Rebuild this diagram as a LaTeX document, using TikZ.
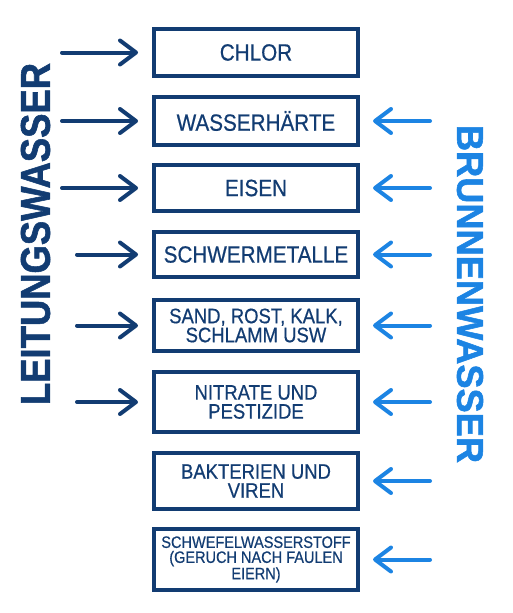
\documentclass[tikz,border=0pt]{standalone}
\usepackage{fontspec}
\setmainfont{Liberation Sans}
\newfontfamily\boxfont[FakeStretch=0.88, FakeBold=0.6]{Liberation Sans}
\newfontfamily\sidefont[UprightFont={* Bold}, FakeBold=1.5]{Liberation Sans}
\usepackage{xcolor}
\usetikzlibrary{arrows.meta}
\definecolor{darkblue}{HTML}{123C72}
\definecolor{lightblue}{HTML}{1C84E3}

\tikzset{
  item/.style={draw=darkblue, line width=4pt, text=darkblue, minimum width=204pt,
               align=center, inner sep=0pt},
  oneline/.style={font=\boxfont\fontsize{23.5}{20}\selectfont},
  twoline/.style={font=\boxfont\fontsize{21}{19}\selectfont},
  threeline/.style={font=\boxfont\fontsize{16.5}{15}\selectfont},
  fromleft/.style={draw=darkblue, line width=4pt, line cap=round,
                   -{Straight Barb[length=16pt, width=24pt, round]}, shorten >=14pt},
  fromright/.style={draw=lightblue, line width=4pt, line cap=round,
                    -{Straight Barb[length=16pt, width=24pt, round]}, shorten >=13pt},
  sidelabel/.style={inner sep=0pt}
}

\begin{document}
\begin{tikzpicture}[x=1pt, y=-1pt]
  \useasboundingbox (0,0) rectangle (512,613);

  % boxes
  \node[item, oneline, minimum height=47pt] (chlor) at (256,52.5) {CHLOR};
  \node[item, oneline, minimum height=48pt] (haerte) at (256,121) {WASSERHÄRTE};
  \node[item, oneline, minimum height=46pt] (eisen) at (256,188) {EISEN};
  \node[item, oneline, minimum height=45pt] (schwer) at (256,254.5) {SCHWERMETALLE};
  \node[item, twoline, minimum height=51pt] (sand) at (256,325.5) {SAND, ROST, KALK,\\SCHLAMM USW};
  \node[item, twoline, minimum height=60pt] (nitrate) at (256,402) {NITRATE UND\\PESTIZIDE};
  \node[item, twoline, minimum height=56pt] (bakterien) at (256,481) {BAKTERIEN UND\\VIREN};
  \node[item, threeline, minimum height=61pt] (schwefel) at (256,559.5) {SCHWEFELWASSERSTOFF\\(GERUCH NACH FAULEN\\EIERN)};

  % side labels
  \node[sidelabel, rotate=90, text=darkblue] (leitung) at (35.5,234)
    {\resizebox{342pt}{29pt}{\sidefont LEITUNGSWASSER}};
  \node[sidelabel, rotate=-90, text=lightblue] (brunnen) at (470,294)
    {\resizebox{338pt}{26pt}{\sidefont BRUNNENWASSER}};

  % arrows from the left
  \draw[fromleft] ([xshift=-90pt]chlor.west) -- (chlor.west);
  \draw[fromleft] ([xshift=-90pt]haerte.west) -- (haerte.west);
  \draw[fromleft] ([xshift=-90pt]eisen.west) -- (eisen.west);
  \draw[fromleft] ([xshift=-75pt]schwer.west) -- (schwer.west);
  \draw[fromleft] ([xshift=-75pt]sand.west) -- (sand.west);
  \draw[fromleft] ([xshift=-75pt]nitrate.west) -- (nitrate.west);

  % arrows from the right
  \draw[fromright] ([xshift=70pt]haerte.east) -- (haerte.east);
  \draw[fromright] ([xshift=70pt]eisen.east) -- (eisen.east);
  \draw[fromright] ([xshift=70pt]schwer.east) -- (schwer.east);
  \draw[fromright] ([xshift=70pt]sand.east) -- (sand.east);
  \draw[fromright] ([xshift=70pt]nitrate.east) -- (nitrate.east);
  \draw[fromright] ([xshift=70pt]bakterien.east) -- (bakterien.east);
  \draw[fromright] ([xshift=70pt]schwefel.east) -- (schwefel.east);
\end{tikzpicture}
\end{document}
